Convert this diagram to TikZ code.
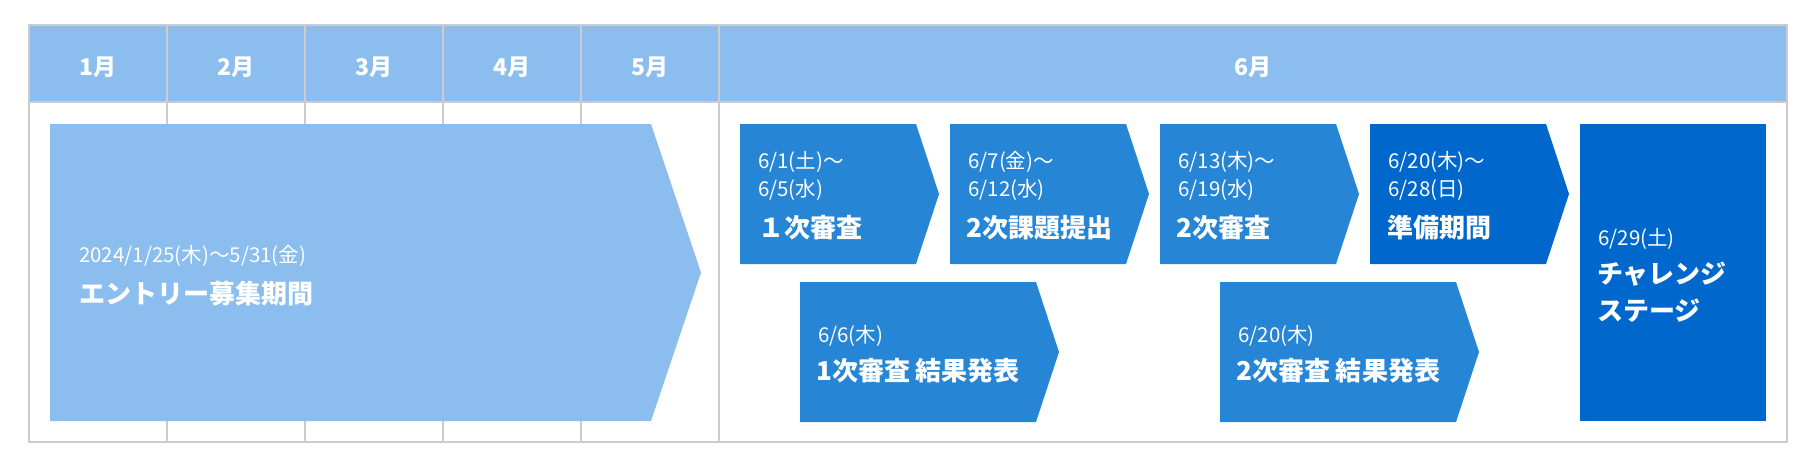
\documentclass[tikz,border=0pt]{standalone}
\usepackage{fontspec}
\setmainfont{Noto Sans CJK JP}
\usepackage{xcolor}
\definecolor{gridline}{HTML}{CCCCCC}
\definecolor{light}{HTML}{8BBEEE}
\definecolor{mid}{HTML}{2785D6}
\definecolor{deep}{HTML}{0068CC}

\begin{document}
\begin{tikzpicture}[
  x=1pt, y=-1pt,
  grid/.style={draw=gridline, line width=2pt},
  mon/.style={anchor=base, inner sep=0pt, text=white, font=\fontsize{23}{26}\selectfont\bfseries},
  datetxt/.style={anchor=base west, inner sep=0pt, text=white, font=\fontsize{20.5}{24}\selectfont},
  ttl/.style={anchor=base west, inner sep=0pt, text=white, font=\fontsize{26}{30}\selectfont\bfseries},
]
\useasboundingbox (0,0) rectangle (1816,474);

% Month header
\fill[light] (29,25) rectangle (1787,102);
\draw[grid] (29,102) -- (1787,102);
\draw[grid] (167,25) -- (167,442);
\draw[grid] (305,25) -- (305,442);
\draw[grid] (443,25) -- (443,442);
\draw[grid] (581,25) -- (581,442);
\draw[grid] (719,25) -- (719,442);
\node[mon] (jan) at (98,75) {1月};
\node[mon] (feb) at (236,75) {2月};
\node[mon] (mar) at (374,75) {3月};
\node[mon] (apr) at (512,75) {4月};
\node[mon] (may) at (650,75) {5月};
\node[mon] (jun) at (1253,75) {6月};

% Entry period
\fill[light] (50,124) -- (651,124) -- (701,272.5) -- (651,421) -- (50,421) -- cycle;
\node[datetxt] (entrydate) at (79,262) {2024/1/25(木)〜5/31(金)};
\node[ttl] (entry) at (79,303) {エントリー募集期間};

% June, first row
\fill[mid] (740,124) -- ++(176,0) -- ++(23,70) -- ++(-23,70) -- ++(-176,0) -- cycle;
\node[datetxt] (rev1a) at (758,168) {6/1(土)〜};
\node[datetxt] (rev1b) at (758,196) {6/5(水)};
\node[ttl] (rev1) at (758,237) {１次審査};

\fill[mid] (950,124) -- ++(176,0) -- ++(23,70) -- ++(-23,70) -- ++(-176,0) -- cycle;
\node[datetxt] (taska) at (968,168) {6/7(金)〜};
\node[datetxt] (taskb) at (968,196) {6/12(水)};
\node[ttl] (task) at (966,237) {2次課題提出};

\fill[mid] (1160,124) -- ++(176,0) -- ++(23,70) -- ++(-23,70) -- ++(-176,0) -- cycle;
\node[datetxt] (rev2a) at (1178,168) {6/13(木)〜};
\node[datetxt] (rev2b) at (1178,196) {6/19(水)};
\node[ttl] (rev2) at (1176,237) {2次審査};

\fill[deep] (1370,124) -- ++(176,0) -- ++(23,70) -- ++(-23,70) -- ++(-176,0) -- cycle;
\node[datetxt] (prepa) at (1388,168) {6/20(木)〜};
\node[datetxt] (prepb) at (1388,196) {6/28(日)};
\node[ttl] (prep) at (1387,237) {準備期間};

% June, second row
\fill[mid] (800,282) -- ++(236,0) -- ++(23,70) -- ++(-23,70) -- ++(-236,0) -- cycle;
\node[datetxt] (res1a) at (818,342) {6/6(木)};
\node[ttl] (res1) at (816,380) {1次審査 結果発表};

\fill[mid] (1220,282) -- ++(236,0) -- ++(23,70) -- ++(-23,70) -- ++(-236,0) -- cycle;
\node[datetxt] (res2a) at (1238,342) {6/20(木)};
\node[ttl] (res2) at (1236,380) {2次審査 結果発表};

% Final stage
\fill[deep] (1580,124) rectangle (1766,421);
\node[datetxt] (stagea) at (1598,245) {6/29(土)};
\node[ttl] (stage) at (1597,283) {チャレンジ};
\node[ttl] (stageb) at (1597,320) {ステージ};

% Frame
\draw[grid] (29,25) rectangle (1787,442);

\end{tikzpicture}
\end{document}
